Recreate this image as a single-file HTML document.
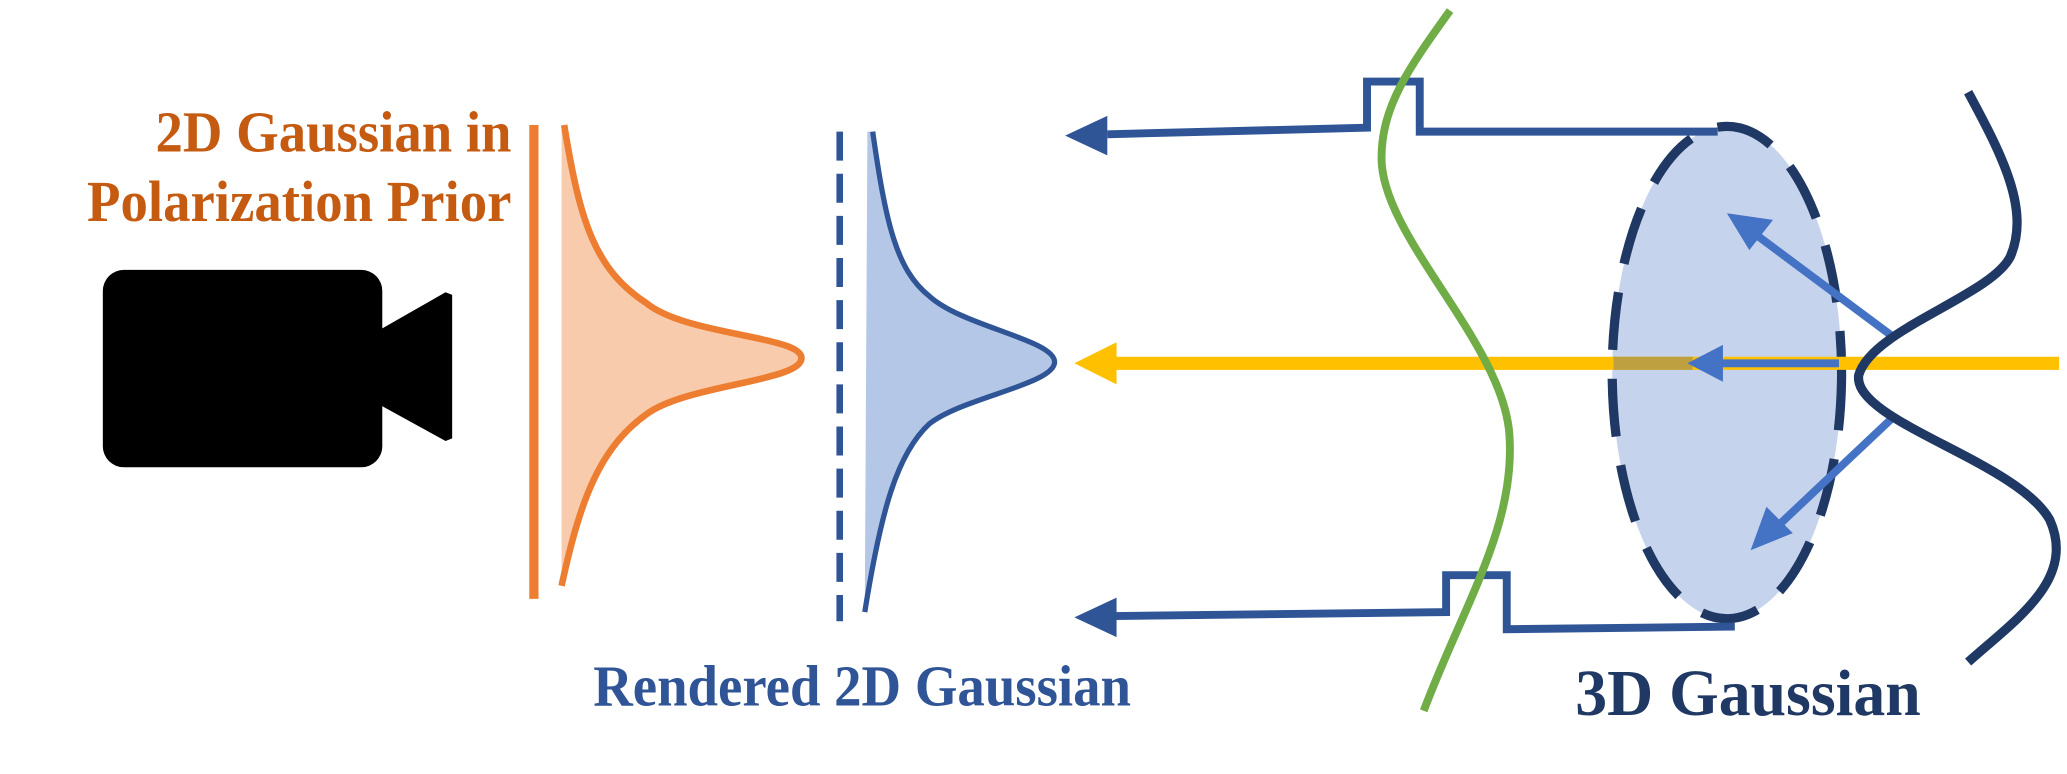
<!DOCTYPE html>
<html><head><meta charset="utf-8"><style>html,body{margin:0;padding:0;background:#fff;}svg{display:block;}</style></head>
<body>
<svg width="2067" height="774" viewBox="0 0 1568 588" preserveAspectRatio="none" xmlns="http://www.w3.org/2000/svg">
<rect width="1568" height="588" fill="#fff"/>
<!-- camera -->
<rect x="78" y="205" width="212" height="150" rx="16" fill="#000"/>
<polygon points="289,250 338,222 343,224 343,333 338,335 289,308" fill="#000"/>
<!-- orange -->
<line x1="405" y1="95" x2="405" y2="455" stroke="#ED7D31" stroke-width="7"/>
<path d="M428,95 C440,170 452,205 490,230 C520,255 608,255 608,272 C608,290 520,292 490,315 C455,340 440,380 426,445 L426,95 Z" fill="#F8CBAD"/>
<path d="M428,95 C440,170 452,205 490,230 C520,255 608,255 608,272 C608,290 520,292 490,315 C455,340 440,380 426,445" fill="none" stroke="#ED7D31" stroke-width="5"/>
<!-- blue dashed and curve -->
<line x1="637" y1="100" x2="637" y2="472" stroke="#2F5597" stroke-width="5" stroke-dasharray="22,10"/>
<path d="M662,100 C672,170 680,205 705,225 C730,248 800,258 800,275 C800,292 730,302 705,322 C680,345 668,390 656,465 L658,100 Z" fill="#B4C7E7"/>
<path d="M662,100 C672,170 680,205 705,225 C730,248 800,258 800,275 C800,292 730,302 705,322 C680,345 668,390 656,465" fill="none" stroke="#2F5597" stroke-width="4"/>
<!-- ellipse -->
<ellipse cx="1310" cy="283" rx="87" ry="187" fill="#C5D4EC" stroke="#1F3864" stroke-width="7" stroke-dasharray="44,22"/>
<!-- upper step arrow -->
<polyline points="840,102 1037,97 1037,62 1077,62 1077,100 1303,100" fill="none" stroke="#2F5597" stroke-width="6"/>
<polygon points="808,103 840,88 840,118" fill="#2F5597"/>
<!-- lower step arrow -->
<polyline points="845,468 1097,465 1097,437 1143,437 1143,478 1316,476" fill="none" stroke="#2F5597" stroke-width="6"/>
<polygon points="815,469 847,454 847,484" fill="#2F5597"/>
<!-- yellow ray -->
<line x1="845" y1="276" x2="1562" y2="276" stroke="#FFC000" stroke-width="10"/>
<polygon points="815,276 847,260 847,292" fill="#FFC000"/>
<rect x="1224" y="271" width="60" height="10" fill="#BFA040"/>
<!-- green curve -->
<path d="M1100,8 C1070,50 1048,80 1048,120 C1048,180 1140,260 1145,330 C1150,400 1110,460 1080,540" fill="none" stroke="#70AD47" stroke-width="6"/>
<!-- inner arrows -->
<g stroke="#4472C4" stroke-width="6" fill="#4472C4">
<line x1="1435" y1="255" x2="1325" y2="173"/>
<polygon points="1310,162 1345,167 1327,190" stroke="none"/>
<line x1="1395" y1="276" x2="1305" y2="276"/>
<polygon points="1280,276 1307,262 1307,290" stroke="none"/>
<line x1="1435" y1="318" x2="1345" y2="403"/>
<polygon points="1328,418 1340,385 1360,405" stroke="none"/>
</g>
<!-- dark navy curve -->
<path d="M1493,70 C1520,120 1540,160 1525,195 C1510,225 1420,250 1410,285 C1405,320 1530,350 1555,395 C1575,440 1530,470 1493,503" fill="none" stroke="#1F3864" stroke-width="7"/>
<!-- text -->
<g font-family="'Liberation Serif', serif" font-weight="bold">
<text x="388" y="115" text-anchor="end" font-size="44" fill="#C55A11" textLength="270" lengthAdjust="spacingAndGlyphs">2D Gaussian in</text>
<text x="388" y="168" text-anchor="end" font-size="44" fill="#C55A11" textLength="322" lengthAdjust="spacingAndGlyphs">Polarization Prior</text>
<text x="450" y="536" font-size="44" fill="#2F5597" textLength="408" lengthAdjust="spacingAndGlyphs">Rendered 2D Gaussian</text>
<text x="1195" y="543" font-size="50" fill="#1F3864" textLength="262" lengthAdjust="spacingAndGlyphs">3D Gaussian</text>
</g>
</svg>
</body></html>
